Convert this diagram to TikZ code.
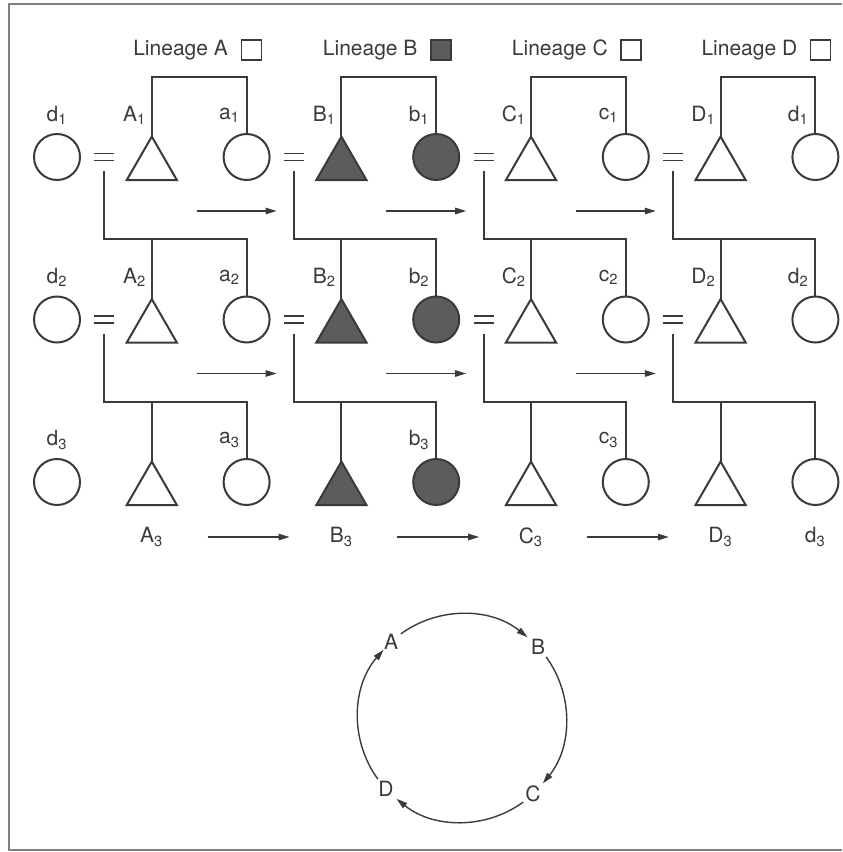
\documentclass[tikz,border=0pt]{standalone}
\usepackage{fontspec}
\setmainfont{TeX Gyre Heros}
\usetikzlibrary{positioning,shapes.geometric,arrows.meta}

\definecolor{ink}{HTML}{3A3A3A}
\definecolor{shade}{HTML}{5C5C5C}

\begin{document}
\begin{tikzpicture}[node distance=47.4pt, on grid, line width=1pt, color=ink,
    font=\fontsize{10.5}{12}\selectfont,
    fem/.style = {draw, circle, minimum size=23pt, inner sep=0pt, outer sep=0pt},
    male/.style = {draw, regular polygon, regular polygon sides=3, minimum size=29pt, inner sep=0pt, outer sep=0pt, yshift=-4.3pt},
    eq/.style = {minimum width=9pt, minimum height=5pt, inner sep=0pt,
        append after command={(\tikzlastnode.west) edge[-, double distance=2.8pt, line width=0.8pt] (\tikzlastnode.east)}},
    key/.style = {draw, rectangle, minimum size=10pt, inner sep=0pt, line width=0.8pt},
    tag/.style = {label={[yshift=21pt]center:#1}},
    ltag/.style = {label={[xshift=-8.5pt, yshift=21pt]center:#1}},
    ttag/.style = {label={[xshift=-8.5pt, yshift=25.3pt]center:#1}},
    btag/.style = {label={[yshift=-27.5pt]center:#1}},
    tbtag/.style = {label={[yshift=-23.2pt]center:#1}},
    flow/.style = {-{Triangle[length=5.5pt,width=3.2pt]}, line width=0.7pt}
    ]
\useasboundingbox (0,0) rectangle (421pt,-426pt);
\draw[line width=1pt, color=gray] (421pt,-2.2pt) -- (4.4pt,-2.2pt) -- (4.4pt,-425pt) -- (421pt,-425pt);

% first generation
\node[fem, tag=d\textsubscript{1}] (dl1) at (28.5pt,-78.5pt) {};
\node[eq] (m1a) [right=23.7pt of dl1] {};
\node[male, ttag=A\textsubscript{1}] (A1) [right=of dl1] {};
\node[fem, ltag=a\textsubscript{1}] (a1) [right=94.8pt of dl1] {};
\node[eq] (m1b) [right=23.7pt of a1] {};
\node[male, fill=shade, ttag=B\textsubscript{1}] (B1) [right=of a1] {};
\node[fem, fill=shade, ltag=b\textsubscript{1}] (b1) [right=94.8pt of a1] {};
\node[eq] (m1c) [right=23.7pt of b1] {};
\node[male, ttag=C\textsubscript{1}] (C1) [right=of b1] {};
\node[fem, ltag=c\textsubscript{1}] (c1) [right=94.8pt of b1] {};
\node[eq] (m1d) [right=23.7pt of c1] {};
\node[male, ttag=D\textsubscript{1}] (D1) [right=of c1] {};
\node[fem, ltag=d\textsubscript{1}] (dr1) [right=94.8pt of c1] {};

% second generation
\node[fem, tag=d\textsubscript{2}] (dl2) [below=81.25pt of dl1] {};
\node[eq] (m2a) [right=23.7pt of dl2] {};
\node[male, ttag=A\textsubscript{2}] (A2) [right=of dl2] {};
\node[fem, ltag=a\textsubscript{2}] (a2) [right=94.8pt of dl2] {};
\node[eq] (m2b) [right=23.7pt of a2] {};
\node[male, fill=shade, ttag=B\textsubscript{2}] (B2) [right=of a2] {};
\node[fem, fill=shade, ltag=b\textsubscript{2}] (b2) [right=94.8pt of a2] {};
\node[eq] (m2c) [right=23.7pt of b2] {};
\node[male, ttag=C\textsubscript{2}] (C2) [right=of b2] {};
\node[fem, ltag=c\textsubscript{2}] (c2) [right=94.8pt of b2] {};
\node[eq] (m2d) [right=23.7pt of c2] {};
\node[male, ttag=D\textsubscript{2}] (D2) [right=of c2] {};
\node[fem, ltag=d\textsubscript{2}] (dr2) [right=94.8pt of c2] {};

% third generation
\node[fem, tag=d\textsubscript{3}] (dl3) [below=81.25pt of dl2] {};
\node[male, tbtag=A\textsubscript{3}] (A3) [right=of dl3] {};
\node[fem, ltag=a\textsubscript{3}] (a3) [right=94.8pt of dl3] {};
\node[male, fill=shade, tbtag=B\textsubscript{3}] (B3) [right=of a3] {};
\node[fem, fill=shade, ltag=b\textsubscript{3}] (b3) [right=94.8pt of a3] {};
\node[male, tbtag=C\textsubscript{3}] (C3) [right=of b3] {};
\node[fem, ltag=c\textsubscript{3}] (c3) [right=94.8pt of b3] {};
\node[male, tbtag=D\textsubscript{3}] (D3) [right=of c3] {};
\node[fem, btag=d\textsubscript{3}] (dr3) [right=94.8pt of c3] {};

% lineage keys
\node[key] (kA) [above=53.5pt of a1, xshift=2.5pt] {};
\node (tA) [left=35.5pt of kA] {Lineage A};
\node[key, fill=shade] (kB) [above=53.5pt of b1, xshift=2.5pt] {};
\node (tB) [left=35.5pt of kB] {Lineage B};
\node[key] (kC) [above=53.5pt of c1, xshift=2.5pt] {};
\node (tC) [left=35.5pt of kC] {Lineage C};
\node[key] (kD) [above=53.5pt of dr1, xshift=2.5pt] {};
\node (tD) [left=35.5pt of kD] {Lineage D};

% sibling lines
\draw (A1.north) -- ++(0,30pt) -| (a1.north);
\draw (B1.north) -- ++(0,30pt) -| (b1.north);
\draw (C1.north) -- ++(0,30pt) -| (c1.north);
\draw (D1.north) -- ++(0,30pt) -| (dr1.north);
\draw (A2.north) -- ++(0,30pt) coordinate (k2a) -| (a2.north);
\draw (B2.north) -- ++(0,30pt) coordinate (k2b) -| (b2.north);
\draw (C2.north) -- ++(0,30pt) coordinate (k2c) -| (c2.north);
\draw (D2.north) -- ++(0,30pt) coordinate (k2d) -| (dr2.north);
\draw (A3.north) -- ++(0,30pt) coordinate (k3a) -| (a3.north);
\draw (B3.north) -- ++(0,30pt) coordinate (k3b) -| (b3.north);
\draw (C3.north) -- ++(0,30pt) coordinate (k3c) -| (c3.north);
\draw (D3.north) -- ++(0,30pt) coordinate (k3d) -| (dr3.north);

% descent from marriages
\draw ([yshift=-7pt]m1a.center) |- (k2a);
\draw ([yshift=-7pt]m1b.center) |- (k2b);
\draw ([yshift=-7pt]m1c.center) |- (k2c);
\draw ([yshift=-7pt]m1d.center) |- (k2d);
\draw ([yshift=-7pt]m2a.center) |- (k3a);
\draw ([yshift=-7pt]m2b.center) |- (k3b);
\draw ([yshift=-7pt]m2c.center) |- (k3c);
\draw ([yshift=-7pt]m2d.center) |- (k3d);

% wife-giving arrows
\draw[flow] ([shift={(-25pt,-27pt)}]a1.center) -- ++(40pt,0);
\draw[flow] ([shift={(-25pt,-27pt)}]b1.center) -- ++(40pt,0);
\draw[flow] ([shift={(-25pt,-27pt)}]c1.center) -- ++(40pt,0);
\draw[flow] ([shift={(-25pt,-27pt)}]a2.center) -- ++(40pt,0);
\draw[flow] ([shift={(-25pt,-27pt)}]b2.center) -- ++(40pt,0);
\draw[flow] ([shift={(-25pt,-27pt)}]c2.center) -- ++(40pt,0);
\draw[flow] ([shift={(-19.5pt,-27.5pt)}]a3.center) -- ++(41pt,0);
\draw[flow] ([shift={(-19.5pt,-27.5pt)}]b3.center) -- ++(41pt,0);
\draw[flow] ([shift={(-19.5pt,-27.5pt)}]c3.center) -- ++(41pt,0);

% cycle
\coordinate (cyc) at (231pt,-359pt);
\node (cA) at ([shift={(133:52pt)}]cyc) {A};
\node (cB) at ([shift={(43:52pt)}]cyc) {B};
\node (cC) at ([shift={(-47:52pt)}]cyc) {C};
\node (cD) at ([shift={(-137:52pt)}]cyc) {D};
\draw[flow] ([shift={(126:52pt)}]cyc) arc[start angle=126, end angle=51, radius=52pt];
\draw[flow] ([shift={(36:52pt)}]cyc) arc[start angle=36, end angle=-39, radius=52pt];
\draw[flow] ([shift={(-54:52pt)}]cyc) arc[start angle=-54, end angle=-129, radius=52pt];
\draw[flow] ([shift={(-144:52pt)}]cyc) arc[start angle=-144, end angle=-221, radius=52pt];

\end{tikzpicture}
\end{document}
